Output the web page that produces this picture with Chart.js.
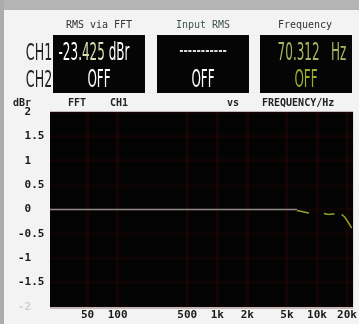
<!DOCTYPE html>
<html>
<head>
<meta charset="utf-8">
<script src="https://cdn.jsdelivr.net/npm/chart.js@4/dist/chart.umd.min.js"></script>
<style>
  html, body { margin: 0; padding: 0; }
  body { width: 359px; height: 324px; position: relative; overflow: hidden; background: #f3f3f3; font-family: "DejaVu Sans Mono", monospace; }
  #topbar { position: absolute; left: 0; top: 0; width: 359px; height: 10px; background: #b4b4b4; }
  #leftbar { position: absolute; left: 0; top: 0; width: 4px; height: 324px; background: #acacac; }
  #chart { position: absolute; left: 0; top: 0; }
  .hd { position: absolute; top: 19px; font-size: 10px; color: #333; text-align: center; width: 100px; }
  .box { position: absolute; top: 35px; width: 92px; height: 58px; background: #050505; }
  .val { position: absolute; left: 50%; white-space: nowrap; transform: translateX(-50%) scaleX(0.5); font-family: "DejaVu Sans", sans-serif; font-size: 24px; line-height: 24px; }
  .ch { position: absolute; left: 39px; white-space: nowrap; transform: translateX(-50%) scaleX(0.55); font-family: "DejaVu Sans", sans-serif; font-size: 23px; color: #222; }
  .lbl { position: absolute; top: 97px; font-size: 10px; font-weight: bold; color: #222; }
</style>
</head>
<body>
<div id="topbar"></div>
<div id="leftbar"></div>
<canvas id="chart" width="359" height="324"></canvas>

<div class="hd" style="left:49px">RMS via FFT</div>
<div class="hd" style="left:153px;color:#3f5553">Input RMS</div>
<div class="hd" style="left:255px">Frequency</div>

<div class="ch" style="top:39px">CH1</div>
<div class="ch" style="top:66px">CH2</div>

<div class="box" style="left:53px">
  <div class="val" style="top:5px;color:#fff;margin-left:-5px">-23.<span style="color:#d4e0b0">425</span> dBr</div>
  <div class="val" style="top:32px;color:#fff">OFF</div>
</div>
<div class="box" style="left:157px">
  <div class="val" style="top:3px;color:#ddd">-----------</div>
  <div class="val" style="top:32px;color:#fff">OFF</div>
</div>
<div class="box" style="left:260px">
  <div class="val" style="top:5px;color:#a8b860;margin-left:6px">70.312&nbsp;&nbsp;&nbsp;Hz</div>
  <div class="val" style="top:32px;color:#9aac2a">OFF</div>
</div>

<div class="lbl" style="left:13px">dBr</div>
<div class="lbl" style="left:68px">FFT</div>
<div class="lbl" style="left:110px">CH1</div>
<div class="lbl" style="left:227px">vs</div>
<div class="lbl" style="left:262px">FREQUENCY/Hz</div>

<script>
// axis ticks
var freqTicks = [50, 100, 500, 1000, 2000, 5000, 10000, 20000];
var freqLabels = ['50', '100', '500', '1k', '2k', '5k', '10k', '20k'];
var dbTicks = [2, 1.5, 1, 0.5, 0, -0.5, -1, -1.5, -2];

// flat part of the trace (grey)
var flatFreq = [21, 50, 100, 500, 1000, 2000, 4000, 6300];
var flatDb = [0, 0, 0, 0, 0, 0, 0, 0];

// top end of the trace (green), null = gap
var hiFreq = [6300, 7000, 7800, 8300, 9500, 11700, 13000, 15000, 16200, 17700, 19000, 20500, 22200];
var hiDb = [-0.02, -0.04, -0.06, -0.07, null, -0.08, -0.1, -0.09, null, -0.1, -0.16, -0.26, -0.38];

function pts(xs, ys) {
  return xs.map(function(x, i) { return {x: x, y: ys[i]}; });
}

var tickFont = {family: 'DejaVu Sans Mono', size: 11, weight: 'bold'};

new Chart(document.getElementById('chart'), {
  type: 'line',
  data: {
    datasets: [{
      data: pts(flatFreq, flatDb),
      borderColor: '#8a8a8a',
      borderWidth: 1.5,
      pointRadius: 0,
      tension: 0
    }, {
      data: pts(hiFreq, hiDb),
      borderColor: '#8fa428',
      borderWidth: 1.5,
      pointRadius: 0,
      spanGaps: false,
      tension: 0.3
    }]
  },
  plugins: [{
    id: 'plotBg',
    beforeDraw: function(chart) {
      var a = chart.chartArea, ctx = chart.ctx;
      ctx.save();
      ctx.fillStyle = '#030303';
      ctx.fillRect(a.left, a.top, a.right - a.left, a.bottom - a.top);
      ctx.restore();
    }
  }],
  options: {
    responsive: false,
    animation: false,
    layout: { padding: { top: 112, right: 2, left: 18, bottom: 0 } },
    plugins: { legend: { display: false }, tooltip: { enabled: false } },
    scales: {
      x: {
        type: 'logarithmic',
        min: 21,
        max: 23000,
        afterBuildTicks: function(s) {
          s.ticks = freqTicks.map(function(v) { return {value: v}; });
        },
        afterFit: function(s) { s.height = 17; },
        ticks: {
          autoSkip: false,
          maxRotation: 0,
          padding: 2,
          color: '#1a1a1a',
          font: tickFont,
          callback: function(v) {
            var i = freqTicks.indexOf(v);
            return i < 0 ? '' : freqLabels[i];
          }
        },
        grid: { color: 'rgba(60,5,5,0.3)', lineWidth: 3, drawTicks: false },
        border: { display: false }
      },
      y: {
        min: -2,
        max: 2,
        afterBuildTicks: function(s) {
          s.ticks = dbTicks.map(function(v) { return {value: v}; });
        },
        afterFit: function(s) { s.width = 32; },
        ticks: {
          crossAlign: 'far',
          padding: 2,
          font: tickFont,
          color: function(c) { return c.tick && c.tick.value === -2 ? '#d0d0d0' : '#1a1a1a'; },
          callback: function(v) { return (v < 0 ? '' : ' ') + v; }
        },
        grid: { color: 'rgba(50,4,4,0.25)', lineWidth: 3, drawTicks: false },
        border: { display: false }
      }
    }
  }
});
</script>
</body>
</html>
